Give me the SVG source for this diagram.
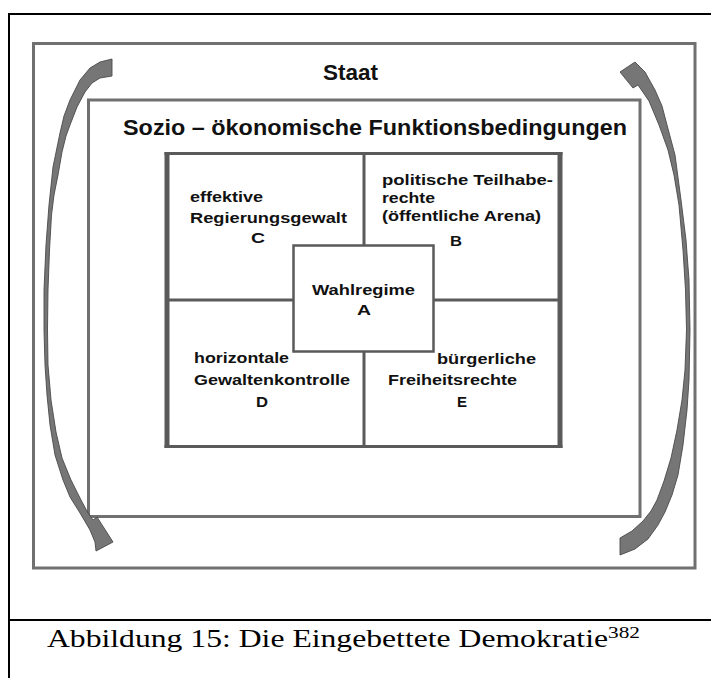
<svg xmlns="http://www.w3.org/2000/svg" width="711" height="678" viewBox="0 0 711 678">
<style>
.frame{stroke:#000;stroke-width:2;fill:none}
.gbox{fill:none;stroke:#707070;stroke-width:3}
.grid{fill:none;stroke:#5a5a5a}
.lbl{font-family:"Liberation Sans",Arial,sans-serif;font-weight:bold;fill:#111}
.s{font-size:15.5px}
.big{font-size:22px}
.cap{font-family:"Liberation Serif","Times New Roman",serif;fill:#000}
.arrow{fill:#767676;stroke:#4a4a4a;stroke-width:0.9;stroke-linejoin:round}
</style>
<rect width="711" height="678" fill="#fff"/>
<g id="frame">
<line class="frame" x1="8" y1="14" x2="711" y2="14"/>
<line class="frame" x1="9" y1="13" x2="9" y2="678"/>
<line class="frame" x1="8" y1="620" x2="711" y2="620"/>
</g>
<g id="staat">
<rect class="gbox" x="33.5" y="43.5" width="661.5" height="524.5"/>
<text class="lbl big" x="323" y="80" textLength="55" lengthAdjust="spacingAndGlyphs">Staat</text>
</g>
<g id="sozio">
<rect class="gbox" x="88.5" y="100" width="551.5" height="416.5"/>
<text class="lbl big" x="123" y="135" textLength="504" lengthAdjust="spacingAndGlyphs">Sozio – ökonomische Funktionsbedingungen</text>
</g>
<g id="grid">
<line class="grid" stroke-width="3" x1="364" y1="153" x2="364" y2="447"/>
<line class="grid" stroke-width="3" x1="167" y1="300" x2="560" y2="300"/>
<line class="grid" stroke-width="3" x1="164.5" y1="153.5" x2="562.5" y2="153.5"/>
<line class="grid" stroke-width="3" x1="164.5" y1="446.5" x2="562.5" y2="446.5"/>
<line class="grid" stroke-width="5" x1="167" y1="152" x2="167" y2="448"/>
<line class="grid" stroke-width="5" x1="560" y1="152" x2="560" y2="448"/>
</g>
<g id="nodeC">
<text class="lbl s" x="190" y="202" textLength="73" lengthAdjust="spacingAndGlyphs">effektive</text>
<text class="lbl s" x="190" y="223" textLength="157" lengthAdjust="spacingAndGlyphs">Regierungsgewalt</text>
<text class="lbl s" x="251" y="243" textLength="14" lengthAdjust="spacingAndGlyphs">C</text>
</g>
<g id="nodeB">
<text class="lbl s" x="382" y="185" textLength="171" lengthAdjust="spacingAndGlyphs">politische Teilhabe-</text>
<text class="lbl s" x="382" y="203" textLength="53" lengthAdjust="spacingAndGlyphs">rechte</text>
<text class="lbl s" x="382" y="221" textLength="159" lengthAdjust="spacingAndGlyphs">(öffentliche Arena)</text>
<text class="lbl s" x="450" y="246" textLength="12" lengthAdjust="spacingAndGlyphs">B</text>
</g>
<g id="nodeD">
<text class="lbl s" x="194" y="363" textLength="95" lengthAdjust="spacingAndGlyphs">horizontale</text>
<text class="lbl s" x="194" y="385" textLength="156" lengthAdjust="spacingAndGlyphs">Gewaltenkontrolle</text>
<text class="lbl s" x="256" y="407" textLength="12" lengthAdjust="spacingAndGlyphs">D</text>
</g>
<g id="nodeE">
<text class="lbl s" x="437" y="364" textLength="99" lengthAdjust="spacingAndGlyphs">bürgerliche</text>
<text class="lbl s" x="388" y="385" textLength="129" lengthAdjust="spacingAndGlyphs">Freiheitsrechte</text>
<text class="lbl s" x="457" y="407" textLength="10" lengthAdjust="spacingAndGlyphs">E</text>
</g>
<g id="nodeA">
<rect x="293.5" y="245.5" width="140" height="106" fill="#fff" stroke="#5a5a5a" stroke-width="2.5"/>
<text class="lbl s" x="312" y="295" textLength="103" lengthAdjust="spacingAndGlyphs">Wahlregime</text>
<text class="lbl s" x="357" y="315" textLength="14" lengthAdjust="spacingAndGlyphs">A</text>
</g>
<g id="connectors">
<path class="arrow" d="M620,538 L632,531 L643,521 L651,511 L657,500 L664,481 L671,458 L677,430 L682,400 L685,370 L686.5,330 L685.5,290 L683,250 L679,205 L674,175 L668,150 L659,125 L649,101 L638,85 L633,88 L620,72 L635,62 L645,72 L655,90 L662,106 L667,125 L675,155 L681,200 L686,240 L689,280 L690,330 L689,380 L687,410 L683,445 L678,475 L672,495 L665,512 L658,525 L648,539 L635,549 L620,555 Z"/>
<path class="arrow" d="M112,59 L100,62 L90,68 L80,80 L70,100 L64,116 L60,133 L53,167 L49,205 L46,245 L44,290 L44,330 L45,365 L47,395 L50,425 L55,455 L63,480 L70,497 L80,513 L90,530 L95,542 L96,551 L113,542 L97,517 L93,520 L88,513 L81,500 L71,480 L62,458 L56,432 L51,400 L48,365 L47.5,330 L48,290 L49.5,250 L51.5,215 L54,195 L58,175 L62,152 L66,136 L70,125 L77,107 L85,92 L92,83 L100,78 L112,76 Z"/>
</g>
<g id="caption">
<text class="cap" x="47" y="647" font-size="26" textLength="561" lengthAdjust="spacingAndGlyphs">Abbildung 15: Die Eingebettete Demokratie</text>
<text class="cap" x="608" y="638" font-size="16" textLength="32" lengthAdjust="spacingAndGlyphs">382</text>
</g>
</svg>
